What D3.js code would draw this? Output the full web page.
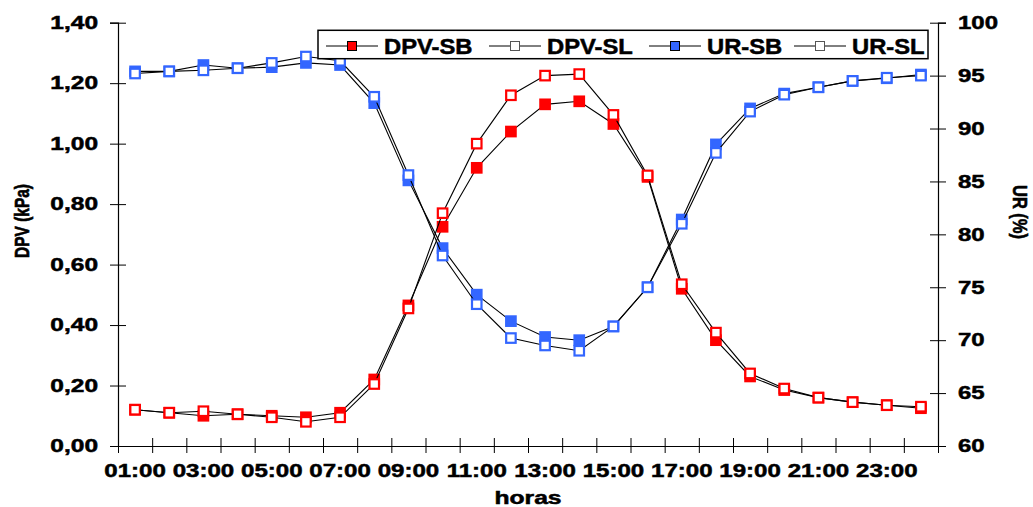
<!DOCTYPE html>
<html>
<head>
<meta charset="utf-8">
<script src="https://cdn.jsdelivr.net/npm/d3@7"></script>
<style>
  body { margin: 0; background: #fff; }
  svg { display: block; font-family: Arial, "Liberation Sans", sans-serif; font-weight: bold; }
  svg text { stroke: #000; stroke-width: 0.5px; fill: #000; }
</style>
</head>
<body>
<svg id="chart" width="1033" height="507"></svg>
<script>
// values
const hours = ['01:00','02:00','03:00','04:00','05:00','06:00','07:00','08:00','09:00','10:00','11:00','12:00',
  '13:00','14:00','15:00','16:00','17:00','18:00','19:00','20:00','21:00','22:00','23:00','24:00'];
const dpvSB = [0.12, 0.11, 0.10, 0.105, 0.10, 0.095, 0.11, 0.22, 0.465, 0.725, 0.92, 1.04,
  1.13, 1.14, 1.065, 0.89, 0.52, 0.35, 0.23, 0.185, 0.16, 0.145, 0.135, 0.125];
const dpvSL = [0.12, 0.11, 0.115, 0.105, 0.095, 0.08, 0.095, 0.205, 0.455, 0.77, 1.00, 1.16,
  1.225, 1.23, 1.095, 0.895, 0.535, 0.375, 0.24, 0.19, 0.16, 0.145, 0.135, 0.13];
const urSB = [95.4, 95.4, 96.0, 95.7, 95.8, 96.2, 96.0, 92.4, 85.1, 78.7, 74.3, 71.8,
  70.3, 70.0, 71.3, 75.0, 81.4, 88.5, 91.9, 93.3, 93.9, 94.5, 94.75, 95.1];
const urSL = [95.2, 95.4, 95.5, 95.7, 96.2, 96.8, 96.4, 93.0, 85.6, 78.0, 73.4, 70.2,
  69.5, 69.0, 71.3, 75.0, 81.0, 87.7, 91.6, 93.2, 93.9, 94.5, 94.8, 95.0];
const dpvTicks = [0, 0.2, 0.4, 0.6, 0.8, 1.0, 1.2, 1.4];
const urTicks = [60, 65, 70, 75, 80, 85, 90, 95, 100];

const red = '#ff0000';
const blue = '#3366ff';
const series = [
  { name: 'DPV-SB', values: dpvSB, axis: 'dpv', color: red, open: false },
  { name: 'DPV-SL', values: dpvSL, axis: 'dpv', color: red, open: true },
  { name: 'UR-SB', values: urSB, axis: 'ur', color: blue, open: false },
  { name: 'UR-SL', values: urSL, axis: 'ur', color: blue, open: true }
];
const legendX = [326, 489, 649, 794];

const plotL = 118, plotR = 938, plotT = 22.7, plotB = 446;
const svg = d3.select('#chart');

const x = d3.scaleBand().domain(hours).range([plotL, plotR]);
const xEdge = d3.scaleLinear().domain([0, hours.length]).range([plotL, plotR]);
const yDpv = d3.scaleLinear().domain([0, 1.4]).range([plotB, plotT]);
const yUr = d3.scaleLinear().domain([60, 100]).range([plotB, plotT]);

// make text wider, like the stretched original
function stretch(sel, s) {
  sel.each(function () {
    const len = this.getComputedTextLength();
    if (len > 0) {
      d3.select(this).attr('textLength', len * s).attr('lengthAdjust', 'spacingAndGlyphs');
    }
  });
}

// left axis
const gL = svg.append('g').attr('transform', 'translate(' + plotL + ',0)')
  .call(d3.axisLeft(yDpv).tickValues(dpvTicks).tickSize(8).tickPadding(12)
    .tickFormat(d => d3.format('.2f')(d).replace('.', ',')));
gL.selectAll('.tick line').attr('x1', 8);
gL.selectAll('text').attr('font-size', 18).attr('font-weight', 'bold').call(stretch, 1.36);

// right axis
const gR = svg.append('g').attr('transform', 'translate(' + plotR + ',0)')
  .call(d3.axisRight(yUr).tickValues(urTicks).tickSize(8).tickPadding(12));
gR.selectAll('.tick line').attr('x1', -8);
gR.selectAll('text').attr('font-size', 18).attr('font-weight', 'bold').call(stretch, 1.33);

// bottom axis: ticks on category edges, labels on every other category
const gX = svg.append('g').attr('transform', 'translate(0,' + plotB + ')')
  .call(d3.axisBottom(xEdge).ticks(hours.length).tickSize(7).tickFormat(''));
gX.selectAll('.tick line').attr('y1', -8);
gX.select('.domain').remove();
const gXL = svg.append('g').attr('transform', 'translate(0,' + plotB + ')')
  .call(d3.axisBottom(x).tickSize(0).tickFormat((d, i) => i % 2 === 0 ? d : ''));
gXL.selectAll('text').attr('y', 31).attr('dy', 0).attr('font-size', 18.5).attr('font-weight', 'bold')
  .call(stretch, 1.3);

svg.selectAll('.domain').attr('stroke', '#000').attr('stroke-width', 1.2);
svg.selectAll('.tick line').attr('stroke', '#000');

// axis titles
svg.append('text').attr('transform', 'translate(29,221) scale(1.3,1) rotate(-90)')
  .attr('text-anchor', 'middle').attr('font-size', 15.5).text('DPV (kPa)');
svg.append('text').attr('transform', 'translate(1013,212) scale(1.2,1) rotate(90)')
  .attr('text-anchor', 'middle').attr('font-size', 16.5).text('UR (%)');
svg.append('text').attr('x', (plotL + plotR) / 2).attr('y', 504).attr('text-anchor', 'middle')
  .attr('font-size', 18).text('horas').call(stretch, 1.37);

// series
const cx = d => x(d) + x.bandwidth() / 2;
series.forEach(s => {
  const y = s.axis === 'dpv' ? yDpv : yUr;
  const pts = hours.map((h, i) => [cx(h), y(s.values[i])]);
  svg.append('path').datum(pts)
    .attr('d', d3.line())
    .attr('fill', 'none').attr('stroke', '#000').attr('stroke-width', 1.1);
  svg.append('g').selectAll('rect').data(pts).join('rect')
    .attr('x', d => d[0] - 4.75).attr('y', d => d[1] - 4.75)
    .attr('width', 9.5).attr('height', 9.5)
    .attr('fill', s.open ? '#fff' : s.color)
    .attr('stroke', s.color).attr('stroke-width', 2.2);
});

// legend
const leg = svg.append('g');
leg.append('rect').attr('x', 318).attr('y', 30.3).attr('width', 610).attr('height', 28.4)
  .attr('fill', '#fff').attr('stroke', '#000').attr('stroke-width', 1.5);
series.forEach((s, i) => {
  const lx = legendX[i];
  const g = leg.append('g');
  g.append('line').attr('x1', lx).attr('x2', lx + 52).attr('y1', 46).attr('y2', 46)
    .attr('stroke', '#000').attr('stroke-width', 1);
  g.append('rect').attr('x', lx + 26 - 4.5).attr('y', 46 - 4.5).attr('width', 9).attr('height', 9)
    .attr('fill', s.open ? '#fff' : s.color).attr('stroke', s.open ? '#555' : '#000').attr('stroke-width', 1);
  g.append('text').attr('x', lx + 58).attr('y', 53.5).attr('font-size', 22).text(s.name)
    .call(stretch, 1.08);
});
</script>
</body>
</html>
